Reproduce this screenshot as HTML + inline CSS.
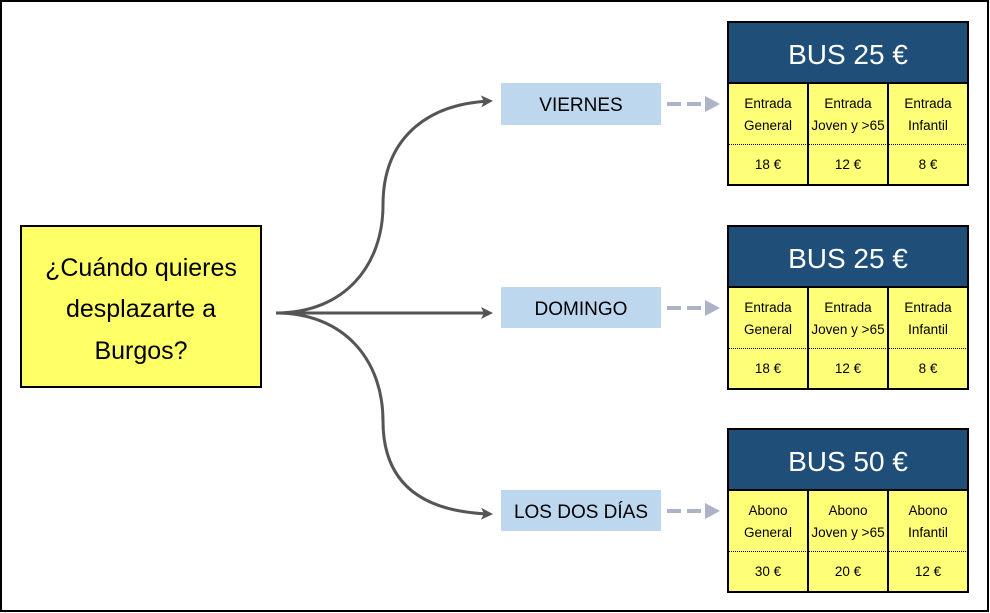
<!DOCTYPE html>
<html><head><meta charset="utf-8"><style>
html,body{margin:0;padding:0;background:#fff}
svg{display:block}
text{font-family:"Liberation Sans","DejaVu Sans",sans-serif}
</style></head><body>
<svg width="990" height="613" viewBox="0 0 990 613" xmlns="http://www.w3.org/2000/svg">
<rect x="1" y="1" width="987" height="610" fill="#fff" stroke="#000" stroke-width="2"/>
<defs>
<marker id="ah" markerWidth="12" markerHeight="12" refX="9" refY="6" orient="auto" markerUnits="userSpaceOnUse">
<path d="M0,0 L12,6 L0,12 L3,6 Z" fill="#555"/></marker>
</defs>
<rect x="21" y="226" width="240" height="161" fill="#ffff66" stroke="#000" stroke-width="2"/>
<g font-size="25" fill="#000" text-anchor="middle">
<text x="141" y="276">¿Cuándo quieres</text>
<text x="141" y="317">desplazarte a</text>
<text x="141" y="359">Burgos?</text>
</g>
<g fill="none" stroke="#555" stroke-width="3">
<path d="M276,313 C345,313 383,265 383,205 C383,140 425,104 490,101" marker-end="url(#ah)"/>
<path d="M276,313 L490,313" marker-end="url(#ah)"/>
<path d="M276,313 C345,313 383,361 383,421 C383,486 425,512 490,514" marker-end="url(#ah)"/>
</g>
<g font-size="19" fill="#000" text-anchor="middle">
<rect x="501" y="83" width="160" height="42" fill="#bdd7ee"/>
<text x="581" y="111">VIERNES</text>
<rect x="501" y="287" width="160" height="41" fill="#bdd7ee"/>
<text x="581" y="315">DOMINGO</text>
<rect x="501" y="490" width="160" height="41" fill="#bdd7ee"/>
<text x="581" y="518">LOS DOS DÍAS</text>
</g>
<g fill="#adb3c7">
<rect x="667" y="102" width="14" height="4"/><rect x="687" y="102" width="14" height="4"/><path d="M705,96 L720,104 L705,112 Z"/>
<rect x="667" y="306" width="14" height="4"/><rect x="687" y="306" width="14" height="4"/><path d="M705,300 L720,308 L705,316 Z"/>
<rect x="667" y="509" width="14" height="4"/><rect x="687" y="509" width="14" height="4"/><path d="M705,503 L720,511 L705,519 Z"/>
</g>
<g>
<rect x="728" y="22" width="240" height="61" fill="#1f4e79"/>
<rect x="728" y="83" width="240" height="102" fill="#ffff77"/>
<rect x="728" y="22" width="240" height="163" fill="none" stroke="#000" stroke-width="2"/>
<line x1="728" y1="83" x2="968" y2="83" stroke="#000" stroke-width="2"/>
<line x1="808" y1="83" x2="808" y2="185" stroke="#000" stroke-width="2"/>
<line x1="888" y1="83" x2="888" y2="185" stroke="#000" stroke-width="2"/>
<line x1="729" y1="144.5" x2="967" y2="144.5" stroke="#000" stroke-width="1" stroke-dasharray="1,1"/>
<text x="848" y="64" font-size="28" fill="#fff" text-anchor="middle">BUS 25 €</text>
<g font-size="13.5" fill="#000" text-anchor="middle">
<text x="768" y="108">Entrada</text><text x="768" y="130">General</text>
<text x="848" y="108">Entrada</text><text x="848" y="130">Joven y &gt;65</text>
<text x="928" y="108">Entrada</text><text x="928" y="130">Infantil</text>
<text x="768" y="169">18 €</text><text x="848" y="169">12 €</text><text x="928" y="169">8 €</text>
</g>
</g>
<g transform="translate(0,204)">
<rect x="728" y="22" width="240" height="61" fill="#1f4e79"/>
<rect x="728" y="83" width="240" height="102" fill="#ffff77"/>
<rect x="728" y="22" width="240" height="163" fill="none" stroke="#000" stroke-width="2"/>
<line x1="728" y1="83" x2="968" y2="83" stroke="#000" stroke-width="2"/>
<line x1="808" y1="83" x2="808" y2="185" stroke="#000" stroke-width="2"/>
<line x1="888" y1="83" x2="888" y2="185" stroke="#000" stroke-width="2"/>
<line x1="729" y1="144.5" x2="967" y2="144.5" stroke="#000" stroke-width="1" stroke-dasharray="1,1"/>
<text x="848" y="64" font-size="28" fill="#fff" text-anchor="middle">BUS 25 €</text>
<g font-size="13.5" fill="#000" text-anchor="middle">
<text x="768" y="108">Entrada</text><text x="768" y="130">General</text>
<text x="848" y="108">Entrada</text><text x="848" y="130">Joven y &gt;65</text>
<text x="928" y="108">Entrada</text><text x="928" y="130">Infantil</text>
<text x="768" y="169">18 €</text><text x="848" y="169">12 €</text><text x="928" y="169">8 €</text>
</g>
</g>
<g transform="translate(0,407)">
<rect x="728" y="22" width="240" height="61" fill="#1f4e79"/>
<rect x="728" y="83" width="240" height="102" fill="#ffff77"/>
<rect x="728" y="22" width="240" height="163" fill="none" stroke="#000" stroke-width="2"/>
<line x1="728" y1="83" x2="968" y2="83" stroke="#000" stroke-width="2"/>
<line x1="808" y1="83" x2="808" y2="185" stroke="#000" stroke-width="2"/>
<line x1="888" y1="83" x2="888" y2="185" stroke="#000" stroke-width="2"/>
<line x1="729" y1="144.5" x2="967" y2="144.5" stroke="#000" stroke-width="1" stroke-dasharray="1,1"/>
<text x="848" y="64" font-size="28" fill="#fff" text-anchor="middle">BUS 50 €</text>
<g font-size="13.5" fill="#000" text-anchor="middle">
<text x="768" y="108">Abono</text><text x="768" y="130">General</text>
<text x="848" y="108">Abono</text><text x="848" y="130">Joven y &gt;65</text>
<text x="928" y="108">Abono</text><text x="928" y="130">Infantil</text>
<text x="768" y="169">30 €</text><text x="848" y="169">20 €</text><text x="928" y="169">12 €</text>
</g>
</g>
</svg>
</body></html>
